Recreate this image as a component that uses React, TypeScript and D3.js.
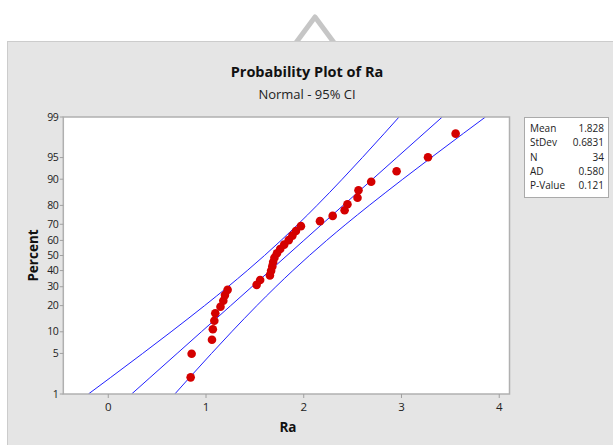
import React from "react";
import * as d3 from "d3";

const raValues = [
  0.843, 0.853, 1.061, 1.07, 1.085, 1.095, 1.148, 1.177, 1.194, 1.221,
  1.518, 1.554, 1.654, 1.666, 1.678, 1.687, 1.7, 1.726, 1.759, 1.8,
  1.846, 1.884, 1.92, 1.971, 2.166, 2.296, 2.418, 2.447, 2.55, 2.56,
  2.69, 2.95, 3.271, 3.554,
];

// Fitted line and 95% CI band (x values at given percents)
const bandPercents = [1, 2, 5, 10, 20, 30, 40, 50, 60, 70, 80, 90, 95, 98, 99];
const fitX = [
  0.2389, 0.4251, 0.7044, 0.9525, 1.2531, 1.4698, 1.655, 1.828, 2.001,
  2.1862, 2.4029, 2.7035, 2.9516, 3.2309, 3.4171,
];
const ciLowX = [
  -0.2031, 0.0203, 0.3522, 0.6427, 0.9859, 1.2249, 1.4217, 1.5984, 1.7678,
  1.9413, 2.1357, 2.3936, 2.5994, 2.826, 2.9751,
];
const ciHighX = [
  0.6809, 0.83, 1.0566, 1.2624, 1.5203, 1.7147, 1.8882, 2.0576, 2.2343,
  2.4311, 2.6701, 3.0133, 3.3038, 3.6357, 3.8591,
];

const yTicks = [1, 5, 10, 20, 30, 40, 50, 60, 70, 80, 90, 95, 99];
const xTicks = [0, 1, 2, 3, 4];

const statLabels = ["Mean", "StDev", "N", "AD", "P-Value"];
const statValues = ["1.828", "0.6831", "34", "0.580", "0.121"];

const FONT = "'Open Sans', 'Noto Sans', sans-serif";

export default function App() {
  const left = 63.3,
    right = 509.5,
    top = 117,
    bottom = 394;
  const x = d3.scaleLinear().domain([-0.46, 4.105]).range([left, right]);
  const zInv = d3.randomNormal; // unused placeholder avoided
  void zInv;
  // inverse normal via d3-free approximation (Acklam)
  const probit = (p: number) => {
    const a = [-39.69683028665376, 220.9460984245205, -275.9285104469687, 138.357751867269, -30.66479806614716, 2.506628277459239];
    const b = [-54.47609879822406, 161.5858368580409, -155.6989798598866, 66.80131188771972, -13.28068155288572];
    const c = [-0.007784894002430293, -0.3223964580411365, -2.400758277161838, -2.549732539343734, 4.374664141464968, 2.938163982698783];
    const dd = [0.007784695709041462, 0.3224671290700398, 2.445134137142996, 3.754408661907416];
    const pl = 0.02425;
    let q, r;
    if (p < pl) {
      q = Math.sqrt(-2 * Math.log(p));
      return (((((c[0] * q + c[1]) * q + c[2]) * q + c[3]) * q + c[4]) * q + c[5]) / ((((dd[0] * q + dd[1]) * q + dd[2]) * q + dd[3]) * q + 1);
    } else if (p <= 1 - pl) {
      q = p - 0.5;
      r = q * q;
      return ((((((a[0] * r + a[1]) * r + a[2]) * r + a[3]) * r + a[4]) * r + a[5]) * q) / (((((b[0] * r + b[1]) * r + b[2]) * r + b[3]) * r + b[4]) * r + 1);
    } else {
      q = Math.sqrt(-2 * Math.log(1 - p));
      return -(((((c[0] * q + c[1]) * q + c[2]) * q + c[3]) * q + c[4]) * q + c[5]) / ((((dd[0] * q + dd[1]) * q + dd[2]) * q + dd[3]) * q + 1);
    }
  };
  const zScale = d3.scaleLinear().domain([probit(0.01), probit(0.99)]).range([bottom, top]);
  const y = (pct: number) => zScale(probit(pct / 100));

  const n = raValues.length;
  const pts = raValues.map((v, i) => ({ v, pct: ((i + 1 - 0.3) / (n + 0.4)) * 100 }));

  const line = (xs: number[]) =>
    d3
      .line<number>()
      .x((d) => x(d))
      .y((_, i) => y(bandPercents[i]))
      .curve(d3.curveMonotoneY)(xs) || "";

  return (
    <svg
      width={613}
      height={445}
      style={{ position: "absolute", left: 0, top: 0 }}
      fontFamily={FONT}
    >
      <rect x={0} y={0} width={613} height={445} fill="#ffffff" />
      <path d="M295,44 L315,17 L335,44" fill="none" stroke="#c6c6c6" strokeWidth={5} strokeLinejoin="round" />
      <rect x={7.5} y={41.5} width={620} height={420} fill="#e5e5e5" stroke="#cccccc" strokeWidth={1} />
      <text x={307} y={77} textAnchor="middle" fontSize={14.5} fontWeight="bold" fill="#111">
        Probability Plot of Ra
      </text>
      <text x={307} y={99} textAnchor="middle" fontSize={13} fill="#222">
        Normal - 95% CI
      </text>

      <defs>
        <clipPath id="plotclip">
          <rect x={left} y={top} width={right - left} height={bottom - top} />
        </clipPath>
      </defs>
      <rect x={left} y={top} width={right - left} height={bottom - top} fill="#ffffff" />

      <g clipPath="url(#plotclip)">
        <path d={line(ciLowX)} fill="none" stroke="#2020ff" strokeWidth={1} />
        <path d={line(fitX)} fill="none" stroke="#2020ff" strokeWidth={1} />
        <path d={line(ciHighX)} fill="none" stroke="#2020ff" strokeWidth={1} />
        {pts.map((p, i) => (
          <circle key={i} cx={x(p.v)} cy={y(p.pct)} r={4.3} fill="#d40000" />
        ))}
      </g>
      <rect x={left} y={top} width={right - left} height={bottom - top} fill="none" stroke="#b0b0b0" strokeWidth={1.5} />

      {yTicks.map((t) => (
        <g key={t}>
          <line x1={left - 3.5} x2={left} y1={y(t)} y2={y(t)} stroke="#a0a0a0" />
          <text x={left - 5} y={y(t)} dy="0.35em" textAnchor="end" fontSize={10.5} fill="#222" letterSpacing={-0.5}>
            {t}
          </text>
        </g>
      ))}
      {xTicks.map((t) => (
        <g key={t}>
          <line x1={x(t)} x2={x(t)} y1={bottom} y2={bottom + 4} stroke="#a0a0a0" />
          <text x={x(t)} y={bottom + 17} textAnchor="middle" fontSize={11.5} fill="#222">
            {t}
          </text>
        </g>
      ))}
      <text x={288} y={432} textAnchor="middle" fontSize={13.5} fontWeight="bold" fill="#111">
        Ra
      </text>
      <text
        transform={`translate(38,${(top + bottom) / 2}) rotate(-90)`}
        textAnchor="middle"
        fontSize={13.5}
        fontWeight="bold"
        fill="#111"
      >
        Percent
      </text>

      <rect x={524.5} y={117.5} width={84} height={80} fill="#ffffff" stroke="#aaaaaa" strokeWidth={1} />
      {statLabels.map((s, i) => (
        <g key={s}>
          <text x={530} y={132 + i * 14.3} fontSize={10} fill="#222">
            {s}
          </text>
          <text x={604} y={132 + i * 14.3} textAnchor="end" fontSize={10} fill="#222">
            {statValues[i]}
          </text>
        </g>
      ))}
    </svg>
  );
}
